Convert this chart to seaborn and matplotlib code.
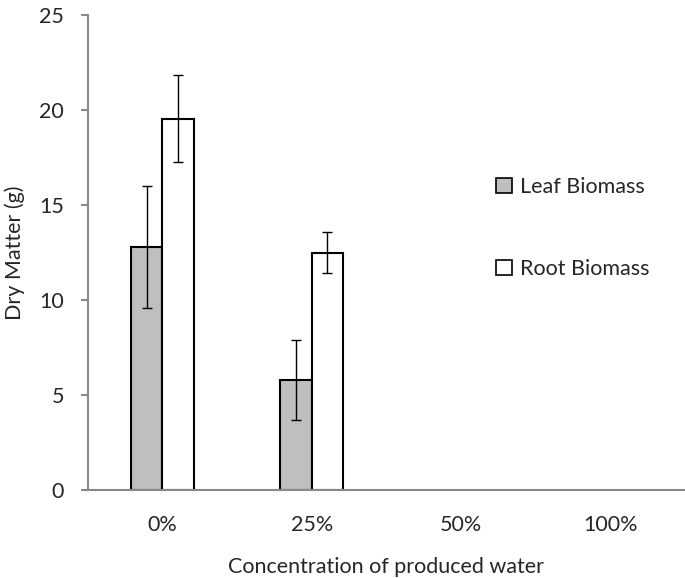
import numpy as np
import pandas as pd
import matplotlib
matplotlib.use('Agg')
import matplotlib.pyplot as plt
import seaborn as sns
from matplotlib.patches import Patch

GREY = '#BFBFBF'
AXIS = '#898989'

concentrations = ['0%', '25%', '50%', '100%']
leaf_mean = [12.8, 5.8, np.nan, np.nan]
leaf_err = [3.2, 2.1, np.nan, np.nan]
root_mean = [19.55, 12.5, np.nan, np.nan]
root_err = [2.3, 1.1, np.nan, np.nan]
series = ['Leaf Biomass', 'Root Biomass']

sns.set_theme(style='white')
plt.rcParams['font.family'] = ['Lato', 'DejaVu Sans']
FS = 15.5

df = pd.DataFrame({
    'conc': concentrations * 2,
    'type': [series[0]] * 4 + [series[1]] * 4,
    'dry': leaf_mean + root_mean,
})

fig = plt.figure(figsize=(6.85, 5.78), dpi=100)
ax = fig.add_axes([0.128, 0.152, 0.872, 0.822])

sns.barplot(data=df, x='conc', y='dry', hue='type', order=concentrations,
            hue_order=series, palette=[GREY, 'white'], width=0.42,
            edgecolor='black', linewidth=1.5, errorbar=None, legend=False, ax=ax)

# error bars on top of each bar (containers only hold the non-empty bars)
errs = [leaf_err, root_err]
means = [leaf_mean, root_mean]
for cont, err, mean in zip(ax.containers, errs, means):
    ok = [i for i, m in enumerate(mean) if not np.isnan(m)]
    xs = [b.get_x() + b.get_width() / 2 for b in cont][:len(ok)]
    ax.errorbar(xs, [mean[i] for i in ok], yerr=[err[i] for i in ok],
                fmt='none', ecolor='black', elinewidth=1, capsize=3.3,
                capthick=1)

ax.set_ylim(0, 25)
ax.set_xlim(-0.5, 3.5)
ax.set_yticks([0, 5, 10, 15, 20, 25])
ax.set_xlabel('Concentration of produced water', fontsize=FS, labelpad=16)
ax.set_ylabel('Dry Matter (g)', fontsize=FS, labelpad=10)

sns.despine(ax=ax)
for s in ['left', 'bottom']:
    ax.spines[s].set_color(AXIS)
    ax.spines[s].set_linewidth(1.5)
ax.tick_params(axis='y', left=True, length=5, width=1.5, color=AXIS,
               labelsize=FS, pad=12)
ax.tick_params(axis='x', bottom=False, labelsize=FS, pad=12)

handles = [Patch(facecolor=GREY, edgecolor='black', linewidth=1.2),
           Patch(facecolor='white', edgecolor='black', linewidth=1.2)]
ax.legend(handles, series, loc='center left', bbox_to_anchor=(0.67, 0.552),
          frameon=False, fontsize=FS, handlelength=0.7, handleheight=0.7,
          handletextpad=0.4, labelspacing=2.9, borderaxespad=0)

plt.savefig('out.png', dpi=100)
